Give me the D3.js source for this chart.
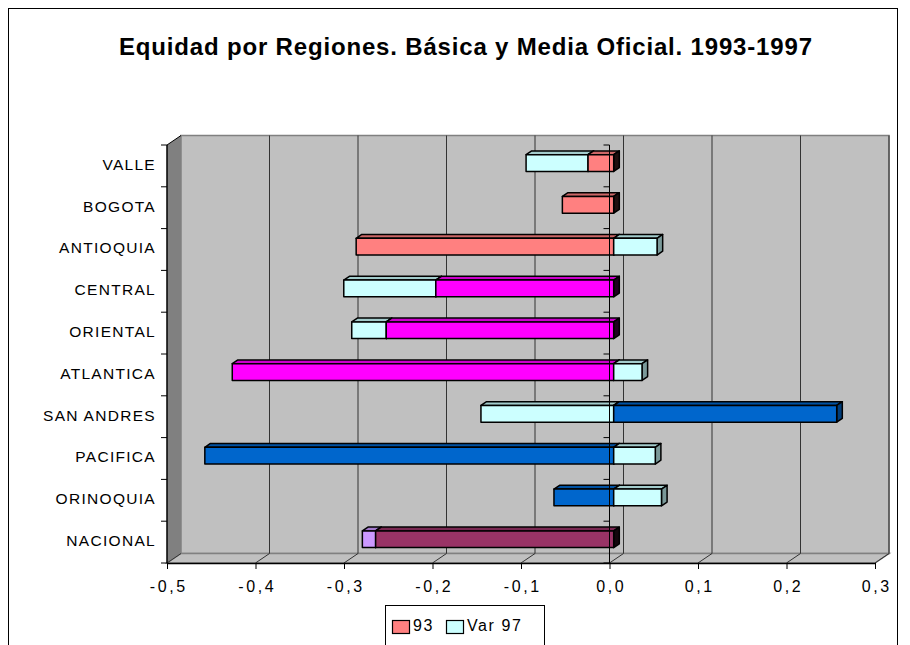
<!DOCTYPE html>
<html>
<head>
<meta charset="utf-8">
<script src="https://cdn.jsdelivr.net/npm/d3@7"></script>
<style>
  body { margin: 0; background: #fff; }
  text { font-family: "Liberation Sans", Arial, sans-serif; fill: #000; }
</style>
</head>
<body>
<svg id="chart"></svg>
<script>
const categories = ["VALLE", "BOGOTA", "ANTIOQUIA", "CENTRAL", "ORIENTAL", "ATLANTICA", "SAN ANDRES", "PACIFICA", "ORINOQUIA", "NACIONAL"];
const serie93 = [-0.029, -0.058, -0.291, -0.201, -0.257, -0.431, 0.252, -0.462, -0.0675, -0.269];
const serieVar97 = [-0.070, 0, 0.049, -0.104, -0.039, 0.032, -0.150, 0.047, 0.054, -0.015];
const colors93 = ["#FF8080", "#FF8080", "#FF8080", "#FF00FF", "#FF00FF", "#FF00FF", "#0066CC", "#0066CC", "#0066CC", "#993366"];
const colorsVar97 = ["#CCFFFF", "#CCFFFF", "#CCFFFF", "#CCFFFF", "#CCFFFF", "#CCFFFF", "#CCFFFF", "#CCFFFF", "#CCFFFF", "#CC99FF"];
const seriesNames = ["93", "Var 97"];
const valueTicks = [-0.5, -0.4, -0.3, -0.2, -0.1, 0.0, 0.1, 0.2, 0.3];
const title = "Equidad por Regiones. Básica y Media Oficial. 1993-1997";

const width = 910;
const height = 645;
const svg = d3.select("#chart").attr("width", width).attr("height", height);

// 3d depth of the plot box
const DX = 14, DY = -9.5;
const front = { left: 167, right: 875, top: 145, bottom: 563 };

const x = d3.scaleLinear().domain([-0.5, 0.3]).range([front.left, front.right]);
const y = d3.scaleBand().domain(categories).range([front.top, front.bottom]).paddingInner(0).paddingOuter(0);

const fmt = d3.formatLocale({ decimal: ",", thousands: ".", grouping: [3], currency: ["", ""], minus: "-" }).format(".1f");

// outer border
svg.append("rect")
  .attr("x", 8.5).attr("y", 8.5).attr("width", 889).attr("height", 660)
  .attr("fill", "#fff").attr("stroke", "#000");

// title
svg.append("text")
  .attr("x", 119).attr("y", 55)
  .attr("font-size", 24).attr("font-weight", "bold")
  .attr("textLength", 693).attr("lengthAdjust", "spacing")
  .text(title);

const pts = (arr) => arr.map((p) => p.join(",")).join(" ");

// back wall
svg.append("polygon")
  .attr("points", pts([[front.left + DX, front.top + DY], [front.right + DX, front.top + DY],
    [front.right + DX, front.bottom + DY], [front.left + DX, front.bottom + DY]]))
  .attr("fill", "#c0c0c0").attr("stroke", "#808080").attr("stroke-width", 1.5);

// left wall
svg.append("polygon")
  .attr("points", pts([[front.left, front.top], [front.left + DX, front.top + DY],
    [front.left + DX, front.bottom + DY], [front.left, front.bottom]]))
  .attr("fill", "#808080");

// floor
svg.append("polygon")
  .attr("points", pts([[front.left, front.bottom], [front.right, front.bottom],
    [front.right + DX, front.bottom + DY], [front.left + DX, front.bottom + DY]]))
  .attr("fill", "#c0c0c0").attr("stroke", "#808080").attr("stroke-width", 1.5);

// gridlines on back wall and floor
svg.append("g").selectAll("line")
  .data(valueTicks.slice(1))
  .join("line")
  .attr("x1", (d) => x(d) + DX).attr("x2", (d) => x(d) + DX)
  .attr("y1", front.top + DY).attr("y2", front.bottom + DY)
  .attr("stroke", "#333").attr("stroke-width", 1);

svg.append("g").selectAll("line")
  .data(valueTicks)
  .join("line")
  .attr("x1", (d) => x(d)).attr("x2", (d) => x(d) + DX)
  .attr("y1", front.bottom).attr("y2", front.bottom + DY)
  .attr("stroke", "#333").attr("stroke-width", 1);

// left wall edges
svg.append("line")
  .attr("x1", front.left).attr("x2", front.left)
  .attr("y1", front.top).attr("y2", front.bottom)
  .attr("stroke", "#000").attr("stroke-width", 1.5);
svg.append("line")
  .attr("x1", front.left).attr("x2", front.left + DX)
  .attr("y1", front.top).attr("y2", front.top + DY)
  .attr("stroke", "#000").attr("stroke-width", 1);

// category ticks at band edges (left wall)
const edges = categories.map((c) => y(c)).concat([front.bottom]);
svg.append("g").selectAll("line")
  .data(edges)
  .join("line")
  .attr("x1", front.left - 6).attr("x2", front.left)
  .attr("y1", (d) => d).attr("y2", (d) => d)
  .attr("stroke", "#000").attr("stroke-width", 1);

// stacked segments (negatives stack left of zero, positives right)
const segments = [];
categories.forEach((c, i) => {
  let pos = 0, neg = 0;
  [[serie93[i], colors93[i]], [serieVar97[i], colorsVar97[i]]].forEach(([v, col]) => {
    if (v === 0) return;
    if (v > 0) { segments.push({ c, x0: pos, x1: pos + v, col, neg: false }); pos += v; }
    else { segments.push({ c, x0: neg + v, x1: neg, col, neg: true }); neg += v; }
  });
});
segments.sort((a, b) => a.x0 - b.x0);

const barH = y.bandwidth() * 0.4;
const fx = DX * 0.3, fy = DY * 0.3;
const dx = DX * 0.4, dy = DY * 0.4;
const shade = (c, k) => { const r = d3.rgb(c); return d3.rgb(r.r * k, r.g * k, r.b * k).formatHex(); };

const bars = svg.append("g");
segments.forEach((s) => {
  const xl = x(s.x0) + fx, xr = x(s.x1) + fx;
  const yt = y(s.c) + (y.bandwidth() - barH) / 2 + fy, yb = yt + barH;
  const g = bars.append("g").attr("stroke", "#000").attr("stroke-width", 1.5).attr("stroke-linejoin", "round");
  g.append("polygon")
    .attr("points", pts([[xl, yt], [xr, yt], [xr + dx, yt + dy], [xl + dx, yt + dy]]))
    .attr("fill", shade(s.col, 0.8));
  g.append("polygon")
    .attr("points", pts([[xr, yt], [xr + dx, yt + dy], [xr + dx, yb + dy], [xr, yb]]))
    .attr("fill", s.neg ? shade(s.col, 0.12) : shade(s.col, 0.6));
  g.append("rect")
    .attr("x", xl).attr("y", yt).attr("width", xr - xl).attr("height", barH)
    .attr("fill", s.col);
});

// category axis at zero
svg.append("line")
  .attr("x1", x(0)).attr("x2", x(0))
  .attr("y1", front.top).attr("y2", front.bottom)
  .attr("stroke", "#000").attr("stroke-width", 1);
svg.append("g").selectAll("line")
  .data(edges)
  .join("line")
  .attr("x1", x(0) - 6).attr("x2", x(0))
  .attr("y1", (d) => d).attr("y2", (d) => d)
  .attr("stroke", "#000").attr("stroke-width", 1);

// category labels
const yAxis = svg.append("g")
  .attr("transform", "translate(" + front.left + ",0)")
  .call(d3.axisLeft(y).tickSize(0).tickPadding(11));
yAxis.select(".domain").remove();
yAxis.selectAll("text")
  .attr("font-size", 15.5).attr("letter-spacing", 1.3)
  .attr("font-family", "Liberation Sans, Arial, sans-serif")
  .attr("dy", "0.25em");

// value axis
const xAxis = svg.append("g")
  .attr("transform", "translate(0," + front.bottom + ")")
  .call(d3.axisBottom(x).tickValues(valueTicks).tickFormat(fmt).tickSize(6).tickPadding(12).tickSizeOuter(0));
xAxis.select(".domain").attr("stroke-width", 1.5);
xAxis.selectAll("text")
  .attr("font-size", 16).attr("letter-spacing", 2.6)
  .attr("font-family", "Liberation Sans, Arial, sans-serif")
  .attr("dx", 1.3);

// legend
const legend = svg.append("g");
legend.append("rect")
  .attr("x", 385.5).attr("y", 605.5).attr("width", 159).attr("height", 60)
  .attr("fill", "#fff").attr("stroke", "#000");
const legendItems = [
  { name: seriesNames[0], col: colors93[0], x: 392 },
  { name: seriesNames[1], col: colorsVar97[0], x: 446 },
];
legendItems.forEach((d) => {
  legend.append("rect")
    .attr("x", d.x + 0.5).attr("y", 620.5).attr("width", 17).attr("height", 13)
    .attr("fill", d.col).attr("stroke", "#000").attr("stroke-width", 1.2);
  legend.append("text")
    .attr("x", d.x + 21).attr("y", 631)
    .attr("font-size", 16).attr("letter-spacing", 1.6)
    .text(d.name);
});
</script>
</body>
</html>
